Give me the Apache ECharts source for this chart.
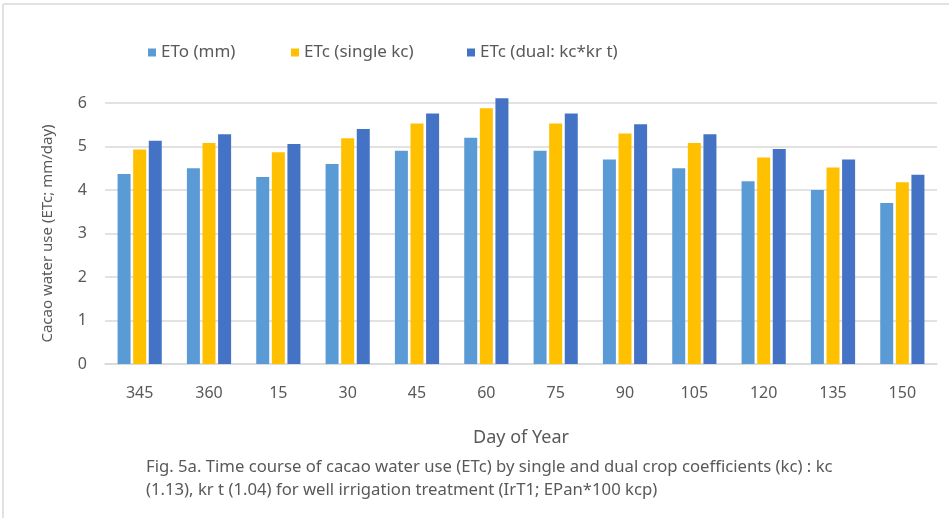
<!DOCTYPE html>
<html>
<head>
<meta charset="utf-8">
<script src="https://cdn.jsdelivr.net/npm/echarts@6/dist/echarts.min.js"></script>
<style>
html,body{margin:0;padding:0;background:#fff;}
#c{width:949px;height:518px;}
</style>
</head>
<body>
<div id="c"></div>
<script>
var categories = ['345','360','15','30','45','60','75','90','105','120','135','150'];
var etoValues = [4.37, 4.50, 4.30, 4.60, 4.90, 5.20, 4.90, 4.70, 4.50, 4.20, 4.00, 3.70];
var etcSingle = [4.93, 5.08, 4.87, 5.19, 5.53, 5.88, 5.53, 5.30, 5.08, 4.75, 4.52, 4.18];
var etcDual   = [5.13, 5.28, 5.06, 5.40, 5.76, 6.11, 5.76, 5.51, 5.28, 4.94, 4.70, 4.35];
var seriesNames = ['ETo (mm)', 'ETc (single kc)', 'ETc (dual: kc*kr t)'];
var yTicks = [0, 1, 2, 3, 4, 5, 6];
var captionLines = [
  'Fig. 5a. Time course of cacao water use (ETc) by single and dual crop coefficients (kc) : kc',
  '(1.13), kr t (1.04) for well irrigation treatment (IrT1; EPan*100 kcp)'
];

var FONT = '"Noto Sans", "Open Sans", sans-serif';
var TXT = '#595959';
var colors = ['#5B9BD5', '#FFC000', '#4472C4'];
var chart = echarts.init(document.getElementById('c'));

var legendLefts = [143, 286, 462];
var legends = seriesNames.map(function (n, i) {
  return {
    data: [n], left: legendLefts[i], top: 39, icon: 'rect',
    itemWidth: 8, itemHeight: 8, itemGap: 6,
    textStyle: { color: TXT, fontSize: 17, fontFamily: FONT }
  };
});

var dataSets = [etoValues, etcSingle, etcDual];
var series = dataSets.map(function (d, i) {
  return {
    name: seriesNames[i], type: 'bar', data: d, barWidth: 13, barGap: '20%',
    clip: false,
    itemStyle: { color: colors[i] }, emphasis: { disabled: true }
  };
});

chart.setOption({
  animation: false,
  color: colors,
  legend: legends,
  grid: { left: 105, right: 12, top: 103, bottom: 154 },
  xAxis: {
    type: 'category', data: categories,
    name: 'Day of Year', nameLocation: 'middle', nameGap: 65,
    nameTextStyle: { color: TXT, fontSize: 18, fontFamily: FONT },
    axisLine: { lineStyle: { color: '#d9d9d9', width: 1.5 } },
    axisTick: { show: false },
    axisLabel: { color: TXT, fontSize: 16, fontFamily: FONT, margin: 21 }
  },
  yAxis: {
    type: 'value', min: yTicks[0], max: yTicks[yTicks.length - 1], interval: 1,
    name: 'Cacao water use (ETc; mm/day)', nameLocation: 'middle', nameGap: 50,
    nameTextStyle: { color: TXT, fontSize: 15, fontFamily: FONT },
    axisLabel: { color: TXT, fontSize: 16, fontFamily: FONT, margin: 18 },
    splitLine: { lineStyle: { color: '#d9d9d9', width: 1.5 } },
    axisLine: { show: false }, axisTick: { show: false }
  },
  series: series,
  graphic: [
    { type: 'line', shape: { x1: 3, y1: 4, x2: 949, y2: 4 }, style: { stroke: '#d9d9d9', lineWidth: 1.5 }, silent: true },
    { type: 'line', shape: { x1: 3, y1: 4, x2: 3, y2: 518 }, style: { stroke: '#d9d9d9', lineWidth: 1.5 }, silent: true },
    { type: 'text', left: 146, top: 459, style: { text: captionLines[0], fill: TXT, font: '16.7px ' + FONT }, silent: true },
    { type: 'text', left: 146, top: 482, style: { text: captionLines[1], fill: TXT, font: '16.7px ' + FONT }, silent: true }
  ]
});
</script>
</body>
</html>
